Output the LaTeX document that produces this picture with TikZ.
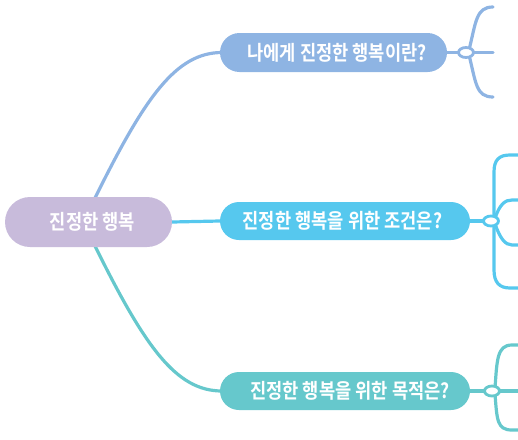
\documentclass[tikz,border=0pt]{standalone}
\usepackage{fontspec}
\newfontfamily\kr{Noto Sans CJK KR}[BoldFont={Noto Sans CJK KR Bold}, FakeStretch=0.86]
\usetikzlibrary{shapes.geometric}
\pgfdeclarelayer{background}
\pgfsetlayers{background,main}
\definecolor{rootc}{HTML}{C8BBDB}
\definecolor{topc}{HTML}{8EB4E3}
\definecolor{midc}{HTML}{56C8EE}
\definecolor{botc}{HTML}{66C8CC}
\tikzset{
  pill/.style={fill=#1, draw=none, inner sep=0pt, text=white,
    font=\kr\bfseries\fontsize{20.5}{23}\selectfont},
  hub/.style={ellipse, draw=#1, fill=white, line width=2.8pt, minimum width=15pt, minimum height=10pt, inner sep=0pt},
  link/.style={draw=#1, line width=3.2pt, line cap=round},
}
\begin{document}
\begin{tikzpicture}[x=1pt,y=-1pt]
\useasboundingbox (0,0) rectangle (518,439);
% main nodes
\node[pill=rootc, minimum width=167pt, minimum height=50pt, rounded corners=25pt] (root) at (88.5,222) {\hspace*{8pt}진정한 행복};
\node[pill=topc, minimum width=227pt, minimum height=39pt, rounded corners=19.5pt] (q1) at (333.5,52.5) {\hspace*{7pt}나에게 진정한 행복이란?};
\node[pill=midc, minimum width=250pt, minimum height=38pt, rounded corners=19pt] (q2) at (345,221) {진정한 행복을 위한 조건은?\hspace*{5pt}};
\node[pill=botc, minimum width=250pt, minimum height=38pt, rounded corners=19pt] (q3) at (345,391) {\hspace*{10pt}진정한 행복을 위한 목적은?};
% connector end points
\coordinate (rt) at (95,198);
\coordinate (rb) at (95,246);
\coordinate (q1w) at (222,52.5);
\coordinate (q3w) at (222,391);
\coordinate (a1) at (493,7);
\coordinate (a2) at (493,52.5);
\coordinate (a3) at (493,97);
\coordinate (b1) at (518,155);
\coordinate (b2) at (518,200);
\coordinate (b3) at (518,245);
\coordinate (b4) at (518,288);
\coordinate (c1) at (518,345);
\coordinate (c2) at (518,391);
\coordinate (c3) at (518,430);
% hubs
\node[hub=topc] (k1) at (466,52.5) {};
\node[hub=midc] (k2) at (491,221) {};
\node[hub=botc] (k3) at (492,391) {};
\begin{pgfonlayer}{background}
% main connectors
\path[link=topc] (rt) .. controls (145,97) and (176,52.5) .. (q1w);
\path[link=midc] (root.east) -- (q2.west);
\path[link=botc] (rb) .. controls (145,347) and (176,391) .. (q3w);
% top branches
\path[link=topc] (q1.east) -- (k1.center);
\path[link=topc] (k1.center) -- (a2);
\path[link=topc] (469,50) .. controls (476,22) and (476,7) .. (a1);
\path[link=topc] (469,55) .. controls (476,83) and (476,97) .. (a3);
% middle branches
\path[link=midc] (q2.east) -- (k2.center);
\path[link=midc] (494,218) -- (494,172) .. controls (494,160) and (499,155) .. (510,155) -- (b1);
\path[link=midc] (495,218) .. controls (500,204) and (505,200) .. (512,200) -- (b2);
\path[link=midc] (495,224) .. controls (500,238) and (505,245) .. (512,245) -- (b3);
\path[link=midc] (494,224) -- (494,270) .. controls (494,282) and (499,288) .. (510,288) -- (b4);
% bottom branches
\path[link=botc] (q3.east) -- (k3.center);
\path[link=botc] (k3.center) -- (c2);
\path[link=botc] (495,388) .. controls (497,360) and (497,345) .. (512,345) -- (c1);
\path[link=botc] (495,394) .. controls (497,420) and (497,430) .. (512,430) -- (c3);
\end{pgfonlayer}
\end{tikzpicture}
\end{document}
